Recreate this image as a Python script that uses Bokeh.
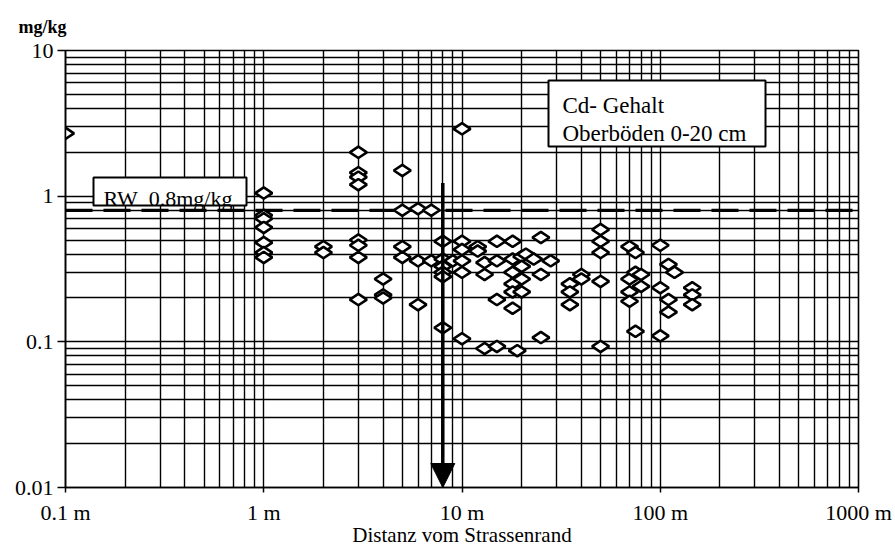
import math
from bokeh.plotting import figure
from bokeh.models import (FixedTicker, Label, Span, Arrow, NormalHead, ColumnDataSource,
                          BoxAnnotation, CustomJSTickFormatter, Range1d)
from bokeh.embed import file_html
from bokeh.resources import INLINE

# ---- data (distance from road edge in m, Cd content in mg/kg) ----
dist = ([0.1]
        + [1] * 7
        + [2] * 2
        + [3] * 8
        + [4] * 3
        + [5] * 4
        + [6] * 3
        + [7] * 2
        + [8] * 6
        + [9]
        + [10] * 6
        + [12] * 2
        + [13] * 3
        + [15] * 4
        + [18] * 6
        + [19]
        + [20] * 4
        + [21]
        + [23]
        + [25] * 3
        + [28]
        + [35] * 3
        + [40] * 2
        + [50] * 5
        + [70] * 4
        + [75] * 3
        + [80] * 2
        + [100] * 3
        + [110] * 3
        + [118]
        + [145] * 3)
cd = ([2.7]
      + [1.05, 0.74, 0.70, 0.61, 0.48, 0.41, 0.38]
      + [0.45, 0.41]
      + [2.0, 1.45, 1.35, 1.2, 0.5, 0.46, 0.38, 0.195]
      + [0.27, 0.21, 0.20]
      + [1.5, 0.8, 0.45, 0.38]
      + [0.82, 0.36, 0.18]
      + [0.8, 0.36]
      + [0.49, 0.37, 0.33, 0.30, 0.28, 0.125]
      + [0.36]
      + [2.9, 0.49, 0.43, 0.36, 0.30, 0.105]
      + [0.45, 0.42]
      + [0.35, 0.29, 0.09]
      + [0.49, 0.36, 0.195, 0.093]
      + [0.49, 0.37, 0.30, 0.25, 0.22, 0.17]
      + [0.087]
      + [0.385, 0.33, 0.27, 0.22]
      + [0.40]
      + [0.37]
      + [0.52, 0.29, 0.107]
      + [0.36]
      + [0.25, 0.22, 0.18]
      + [0.29, 0.27]
      + [0.59, 0.49, 0.41, 0.26, 0.093]
      + [0.45, 0.27, 0.22, 0.19]
      + [0.41, 0.30, 0.118]
      + [0.29, 0.24]
      + [0.46, 0.235, 0.11]
      + [0.34, 0.195, 0.16]
      + [0.30]
      + [0.235, 0.21, 0.18])

x_ticks = [0.1, 1, 10, 100, 1000]
y_ticks = [0.01, 0.1, 1, 10]
rw_value = 0.8
rw_text = "RW\u00a0\u00a00.8mg/kg"
box_lines = ["Cd- Gehalt", "Oberböden 0-20 cm"]
x_title = "Distanz vom Strassenrand"
y_unit = "mg/kg"
arrow_x = 8
arrow_top = 1.23

SERIF = "Liberation Serif"

x_minor = [m * 10 ** e for e in range(-1, 3) for m in range(2, 10)]
y_minor = [m * 10 ** e for e in range(-2, 1) for m in range(2, 10)]

p = figure(width=895, height=549, x_axis_type="log", y_axis_type="log",
           x_range=Range1d(0.1, 1000), y_range=Range1d(0.01, 10),
           output_backend="svg", toolbar_location=None,
           min_border_left=65, min_border_right=37, min_border_top=50, min_border_bottom=60)
p.background_fill_color = "white"
p.border_fill_color = "white"
p.outline_line_color = "black"
p.outline_line_width = 1.6

p.title.text = y_unit
p.title.align = "left"
p.title.offset = -47
p.title.standoff = 28
p.title.text_font = SERIF
p.title.text_font_size = "18px"
p.title.text_font_style = "bold"
p.title.text_color = "black"

xt = FixedTicker(ticks=x_ticks, minor_ticks=x_minor)
yt = FixedTicker(ticks=y_ticks, minor_ticks=y_minor)
p.xaxis.ticker = xt
p.yaxis.ticker = yt
p.xgrid.ticker = xt
p.ygrid.ticker = yt
for g in (p.xgrid, p.ygrid):
    g.grid_line_color = "black"
    g.grid_line_width = 1.4
    g.minor_grid_line_color = "black"
    g.minor_grid_line_width = 1.4

p.xaxis.formatter = CustomJSTickFormatter(code="return String(tick) + ' m'")
p.yaxis.formatter = CustomJSTickFormatter(code="return String(tick)")

for ax in (p.xaxis, p.yaxis):
    ax.axis_line_color = "black"
    ax.axis_line_width = 1.5
    ax.major_tick_in = 0
    ax.minor_tick_in = 0
    ax.minor_tick_out = 0
    ax.major_tick_line_color = "black"
    ax.major_tick_line_width = 1.5
    ax.major_label_text_font = SERIF
    ax.major_label_text_font_size = "22px"
    ax.major_label_text_color = "black"
p.yaxis.major_tick_out = 8
p.yaxis.major_label_standoff = 4
p.xaxis.major_tick_out = 5
p.xaxis.major_label_standoff = 7
p.xaxis.axis_label = x_title
p.xaxis.axis_label_text_font = SERIF
p.xaxis.axis_label_text_font_size = "21px"
p.xaxis.axis_label_text_font_style = "normal"
p.xaxis.axis_label_text_color = "black"
p.xaxis.axis_label_standoff = -5

# RW threshold line
rw = Span(location=rw_value, dimension="width", line_color="black", line_width=3.2,
          line_dash="27 11", level="underlay")
p.add_layout(rw)

src = ColumnDataSource(dict(x=dist, y=cd))
p.scatter("x", "y", source=src, marker="diamond", size=17, angle=math.pi / 2,
          fill_color="white", line_color="black", line_width=2.6)

# arrow at ~8 m
p.add_layout(Arrow(x_start=arrow_x, y_start=arrow_top, x_end=arrow_x, y_end=y_ticks[0],
                   line_color="black", line_width=3.5,
                   end=NormalHead(size=24, fill_color="black", line_color="black")))

# boxes (screen units relative to frame)
p.add_layout(BoxAnnotation(left=28, right=181, top=310, bottom=282,
                           left_units="screen", right_units="screen",
                           top_units="screen", bottom_units="screen",
                           fill_color="white", fill_alpha=1, line_color="black",
                           line_alpha=1, line_width=2, level="overlay"))
p.add_layout(Label(x=38, y=289, x_units="screen", y_units="screen", text=rw_text,
                   text_font=SERIF, text_font_size="22px", text_color="black",
                   text_baseline="alphabetic", level="overlay"))

p.add_layout(BoxAnnotation(left=483, right=700, top=407, bottom=341,
                           left_units="screen", right_units="screen",
                           top_units="screen", bottom_units="screen",
                           fill_color="white", fill_alpha=1, line_color="black",
                           line_alpha=1, line_width=2, level="overlay"))
for i, t in enumerate(box_lines):
    p.add_layout(Label(x=497, y=382 - 28 * i, x_units="screen", y_units="screen", text=t,
                       text_font=SERIF, text_font_size="23px", text_color="black",
                       text_baseline="alphabetic", level="overlay"))

open("out.html", "w").write(file_html(p, INLINE))
